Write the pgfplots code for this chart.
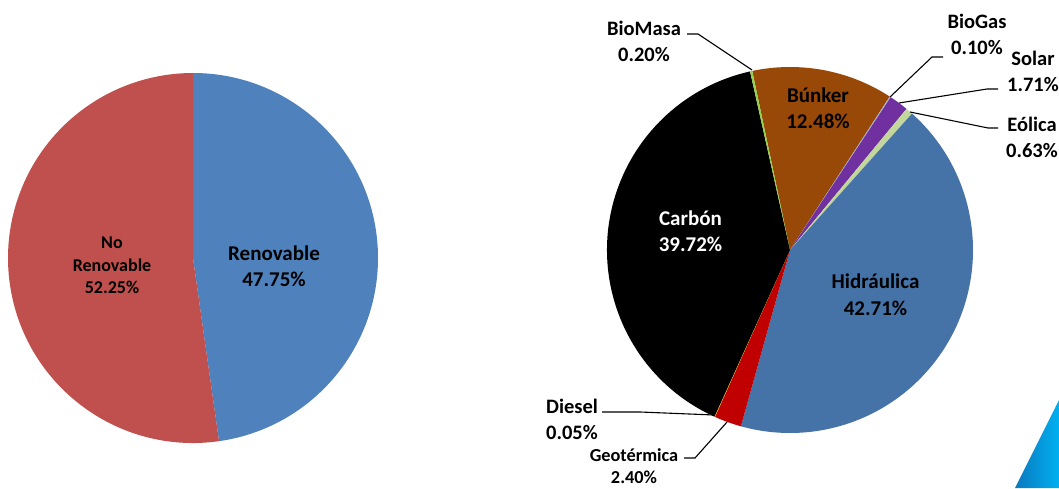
\documentclass[border=0pt]{standalone}
\usepackage{pgfplots}
\pgfplotsset{compat=1.18}
\usepackage{fontspec}
\setmainfont{Carlito}
\definecolor{renov}{HTML}{4F81BD}
\definecolor{norenov}{HTML}{C0504D}
\definecolor{hidra}{HTML}{4572A7}
\definecolor{geot}{HTML}{C00000}
\definecolor{diesel}{HTML}{FFC000}
\definecolor{carbon}{HTML}{000000}
\definecolor{biomasa}{HTML}{92D050}
\definecolor{bunker}{HTML}{984807}
\definecolor{biogas}{HTML}{A6B8D8}
\definecolor{solar}{HTML}{7030A0}
\definecolor{eolica}{HTML}{C3D69B}
\definecolor{triA}{HTML}{0B78BE}
\definecolor{triB}{HTML}{00B0F0}
% #1 cx, #2 cy, #3 radius, #4 first start angle, #5 cumulative percent before, #6 percent, #7 colour
\newcommand\slice[7]{%
  \fill[#7] (axis cs:#1,#2) -- ++({#4-3.6*(#5)}:#3pt)
    arc[start angle={#4-3.6*(#5)}, end angle={#4-3.6*(#5+#6)}, radius=#3pt] -- cycle;}
\begin{document}
\begin{tikzpicture}
\begin{axis}[
  scale only axis, width=1059pt, height=488pt,
  xmin=0, xmax=1059, ymin=0, ymax=488,
  hide axis, clip=false]
% ---- left pie: centre (193,230), radius 185
\slice{193}{230}{185}{90}{0}{47.75}{renov}
\slice{193}{230}{185}{90}{47.75}{52.25}{norenov}
% ---- right pie: centre (790,238), radius 183
\slice{790}{238}{183}{101.9}{0}{12.48}{bunker}
\slice{790}{238}{183}{101.9}{12.48}{0.10}{biogas}
\slice{790}{238}{183}{101.9}{12.48+0.10}{1.71}{solar}
\slice{790}{238}{183}{101.9}{12.48+0.10+1.71}{0.63}{eolica}
\slice{790}{238}{183}{101.9}{12.48+0.10+1.71+0.63}{42.71}{hidra}
\slice{790}{238}{183}{101.9}{12.48+0.10+1.71+0.63+42.71}{2.40}{geot}
\slice{790}{238}{183}{101.9}{12.48+0.10+1.71+0.63+42.71+2.40}{0.05}{diesel}
\slice{790}{238}{183}{101.9}{12.48+0.10+1.71+0.63+42.71+2.40+0.05}{39.72}{carbon}
\slice{790}{238}{183}{101.9}{12.48+0.10+1.71+0.63+42.71+2.40+0.05+39.72}{0.20}{biomasa}
% ---- labels
\node[align=center, font=\bfseries\fontsize{21}{26.5}\selectfont] at (axis cs:274,222) {Renovable\\47.75\%};
\node[align=center, font=\bfseries\fontsize{18}{22.5}\selectfont] at (axis cs:112,222.5) {No\\Renovable\\52.25\%};
\node[align=center, text=white, font=\bfseries\fontsize{21}{26.5}\selectfont] at (axis cs:690.5,257) {Carbón\\39.72\%};
\node[align=center, font=\bfseries\fontsize{21}{26}\selectfont] at (axis cs:818,380) {Búnker\\12.48\%};
\node[align=center, font=\bfseries\fontsize{21}{26.5}\selectfont] at (axis cs:875.5,193.5) {Hidráulica\\42.71\%};
\node[align=center, font=\bfseries\fontsize{20.5}{26}\selectfont] at (axis cs:644,447) {BioMasa\\0.20\%};
\node[align=center, font=\bfseries\fontsize{20.5}{26}\selectfont] at (axis cs:977,454) {BioGas\\0.10\%};
\node[align=center, font=\bfseries\fontsize{20.5}{26}\selectfont] at (axis cs:1033,417) {Solar\\1.71\%};
\node[align=center, font=\bfseries\fontsize{20.5}{26}\selectfont] at (axis cs:1032,351) {Eólica\\0.63\%};
\node[align=center, font=\bfseries\fontsize{20.5}{26}\selectfont] at (axis cs:572,69) {Diesel\\0.05\%};
\node[align=center, font=\bfseries\fontsize{18.3}{22}\selectfont] at (axis cs:634,21.5) {Geotérmica\\2.40\%};
% ---- leader lines
\draw[black, line width=1.1pt] (axis cs:687,454) -- (axis cs:698,454) -- (axis cs:752,418);
\draw[black, line width=1.1pt] (axis cs:943,431) -- (axis cs:932,431) -- (axis cs:890,391);
\draw[black, line width=1.1pt] (axis cs:998,399) -- (axis cs:987,399) -- (axis cs:899,385);
\draw[black, line width=1.1pt] (axis cs:998,360) -- (axis cs:988,360) -- (axis cs:910,376);
\draw[black, line width=1.1pt] (axis cs:602,76) -- (axis cs:640,76) -- (axis cs:714,73);
\draw[black, line width=1.1pt] (axis cs:684,30) -- (axis cs:695,30) -- (axis cs:727,66);
% ---- decorative corner
\shade[left color=triA, right color=triB] (axis cs:1015,0) -- (axis cs:1059,88) -- (axis cs:1059,0) -- cycle;
\end{axis}
\pgfresetboundingbox
\path[use as bounding box] (0,0) rectangle (1059pt,488pt);
\end{tikzpicture}
\end{document}
